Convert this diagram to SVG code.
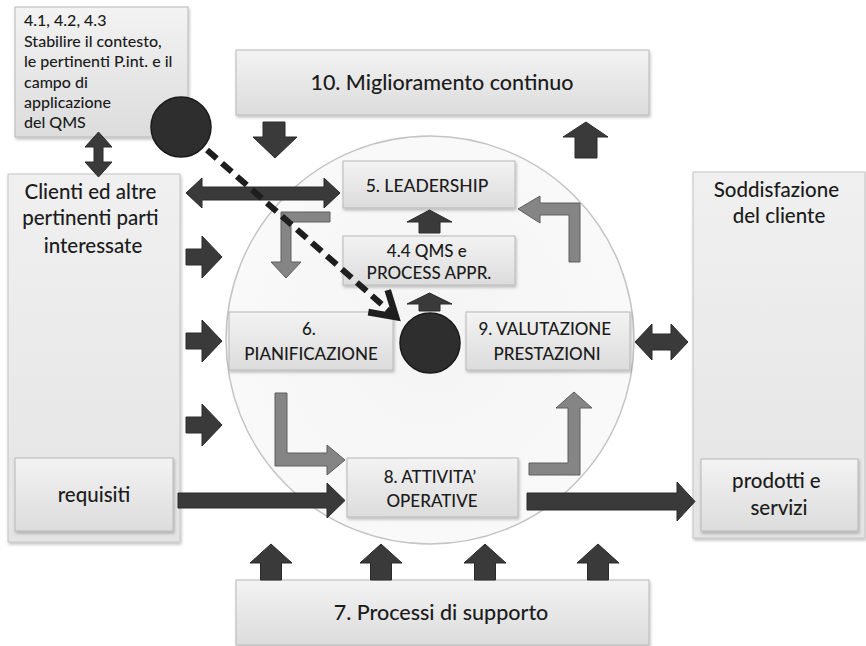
<svg xmlns="http://www.w3.org/2000/svg" width="866" height="646" viewBox="0 0 866 646">
<defs>
<linearGradient id="boxg" x1="0" y1="0" x2="0" y2="1">
<stop offset="0" stop-color="#f3f3f3"/>
<stop offset="1" stop-color="#dcdcdc"/>
</linearGradient>
<linearGradient id="sideg" x1="0" y1="0" x2="0" y2="1">
<stop offset="0" stop-color="#f0f0f0"/>
<stop offset="1" stop-color="#e4e4e4"/>
</linearGradient>
<radialGradient id="circg" cx="0.5" cy="0.5" r="0.5">
<stop offset="0" stop-color="#f4f4f4"/>
<stop offset="1" stop-color="#f9f9f9"/>
</radialGradient>
<filter id="sh" x="-10%" y="-10%" width="120%" height="130%">
<feDropShadow dx="1" dy="2" stdDeviation="1.5" flood-color="#000" flood-opacity="0.25"/>
</filter>
<marker id="vhead" markerUnits="userSpaceOnUse" markerWidth="40" markerHeight="40" viewBox="-24 -14 30 28" refX="0" refY="0" orient="auto">
<path d="M-18,-11 L0,0 L-18,11" fill="none" stroke="#1e1e1e" stroke-width="5"/>
</marker>
</defs>
<style>
.box{fill:url(#boxg);stroke:#b8b8b8;stroke-width:1;filter:url(#sh)}
.side{fill:url(#sideg);stroke:#c4c4c4;stroke-width:1;filter:url(#sh)}
.t{font-family:Lato,"Open Sans","Liberation Sans",sans-serif;fill:#1c1c1c;font-weight:500}
.c{text-anchor:middle}
.dark{fill:#3a3a3a;stroke:#2a2a2a;stroke-width:1}
.mid{fill:#858585;stroke:#5e5e5e;stroke-width:1}
.dot{fill:#2e2e2e;stroke:#1a1a1a;stroke-width:1.5}
</style>
<rect width="866" height="646" fill="#ffffff"/>

<circle id="cycle" cx="430" cy="340" r="204" fill="url(#circg)" stroke="#c4c4c4" stroke-width="1.5"/>

<g id="context">
<rect class="box" x="15" y="7" width="173" height="130"/>
<text class="t" font-size="16" x="24">
<tspan x="24" y="26">4.1, 4.2, 4.3</tspan>
<tspan x="24" y="46.5">Stabilire il contesto,</tspan>
<tspan x="24" y="67">le pertinenti P.int. e il</tspan>
<tspan x="24" y="87.5">campo di</tspan>
<tspan x="24" y="108">applicazione</tspan>
<tspan x="24" y="128">del QMS</tspan>
</text>
</g>

<g id="clienti">
<rect class="side" x="8" y="174" width="172" height="368"/>
<text class="t c" font-size="20.5" x="93">
<tspan x="93" y="199">Clienti ed altre</tspan>
<tspan x="93" y="225">pertinenti parti</tspan>
<tspan x="93" y="253">interessate</tspan>
</text>
</g>
<g id="requisiti">
<rect class="box" x="15" y="458" width="158" height="73"/>
<text class="t c" font-size="20.5" x="94" y="502">requisiti</text>
</g>

<g id="soddisfazione">
<rect class="side" x="693" y="172" width="172" height="366"/>
<text class="t c" font-size="20.5" x="779">
<tspan x="779" y="197">Soddisfazione</tspan>
<tspan x="779" y="223">del cliente</tspan>
</text>
</g>
<g id="prodotti">
<rect class="box" x="701" y="459" width="157" height="72"/>
<text class="t c" font-size="20.5" x="779">
<tspan x="779" y="488">prodotti e</tspan>
<tspan x="779" y="515">servizi</tspan>
</text>
</g>

<g id="miglioramento">
<rect class="box" x="236" y="50" width="413" height="65"/>
<text class="t c" font-size="21.5" x="442" y="90">10. Miglioramento continuo</text>
</g>

<g id="supporto">
<rect class="box" x="236" y="580" width="413" height="65"/>
<text class="t c" font-size="21.5" x="441" y="620">7. Processi di supporto</text>
</g>

<g id="leadership">
<rect class="box" x="343" y="161" width="172" height="47"/>
<text class="t c" font-size="17.5" x="427" y="192">5. LEADERSHIP</text>
</g>

<g id="qms">
<rect class="box" x="343" y="236" width="172" height="49"/>
<text class="t c" font-size="17" x="429">
<tspan x="429" y="257">4.4 QMS e</tspan>
<tspan x="429" y="279">PROCESS APPR.</tspan>
</text>
</g>

<g id="pianificazione">
<rect class="box" x="229" y="312" width="164" height="58"/>
<text class="t c" font-size="17" x="311">
<tspan x="311" y="335">6.</tspan>
<tspan x="311" y="360">PIANIFICAZIONE</tspan>
</text>
</g>

<g id="valutazione">
<rect class="box" x="466" y="312" width="164" height="58"/>
<text class="t c" font-size="17" x="547">
<tspan x="547" y="335">9. VALUTAZIONE</tspan>
<tspan x="547" y="360">PRESTAZIONI</tspan>
</text>
</g>

<g id="attivita">
<rect class="box" x="347" y="458" width="171" height="59"/>
<text class="t c" font-size="17" x="432">
<tspan x="432" y="483">8. ATTIVITA’</tspan>
<tspan x="432" y="507">OPERATIVE</tspan>
</text>
</g>

<g id="dot-context"><circle class="dot" cx="181" cy="127" r="30"/></g>
<g id="dot-center"><circle class="dot" cx="430" cy="343" r="30"/></g>

<g id="connectors">
<path class="dark" d="M263,122 H285 V137 H297 L275,158 L253,137 H263 Z"/>
<path class="dark" d="M586,122 L608,137 H597 V158 H575 V137 H563 Z"/>
<path class="dark" d="M98.5,132 L112,147 H103 V162 H112 L98.5,177 L85,162 H94 V147 H85 Z"/>
<path class="dark" d="M186,193 L202,178 V187 H324 V178 L340,193 L324,208 V200 H202 V208 Z"/>
<path class="dark" d="M186,249 H202 V236 L222,257 L202,278 V265 H186 Z"/>
<path class="dark" d="M186,333 H202 V320 L222,341 L202,362 V349 H186 Z"/>
<path class="dark" d="M186,417 H202 V404 L222,425 L202,446 V433 H186 Z"/>
<path class="dark" d="M178,493 H327 V483 L345,500.5 L327,518 V508 H178 Z"/>
<path class="dark" d="M527,493 H677 V482 L695,501.5 L677,521 V510 H527 Z"/>
<path class="dark" d="M635,342 L652,324 V334 H671 V324 L688,342 L671,360 V350 H652 V360 Z"/>
<path class="dark" d="M429.5,210 L452,222 H440 V233 H419 V222 H407 Z"/>
<path class="dark" d="M429.5,293 L452,304 H440 V311 H419 V304 H407 Z"/>
<path class="dark" d="M271,544 L292,563 H281.5 V580 H260.5 V563 H250 Z"/>
<path class="dark" d="M381,544 L402,563 H391.5 V580 H370.5 V563 H360 Z"/>
<path class="dark" d="M485,544 L506,563 H495.5 V580 H474.5 V563 H464 Z"/>
<path class="dark" d="M598,544 L619,563 H608.5 V580 H587.5 V563 H577 Z"/>
<path class="mid" d="M330,212 V222 H291 V262 H301 L286,278 L271,262 H281 V212 Z"/>
<path class="mid" d="M580,262 H569 V215 H540 V223 L518,209 L540,196 V203 H580 Z"/>
<path class="mid" d="M275,393 H287 V453 H327 V445 L345,460 L327,475 V466 H275 Z"/>
<path class="mid" d="M529,463 H568 V408 H556 L574,392 L592,408 H580 V475 H529 Z"/>
<line x1="207" y1="150" x2="396" y2="317" stroke="#1e1e1e" stroke-width="6" stroke-dasharray="13 7" marker-end="url(#vhead)"/>
</g>
</svg>
